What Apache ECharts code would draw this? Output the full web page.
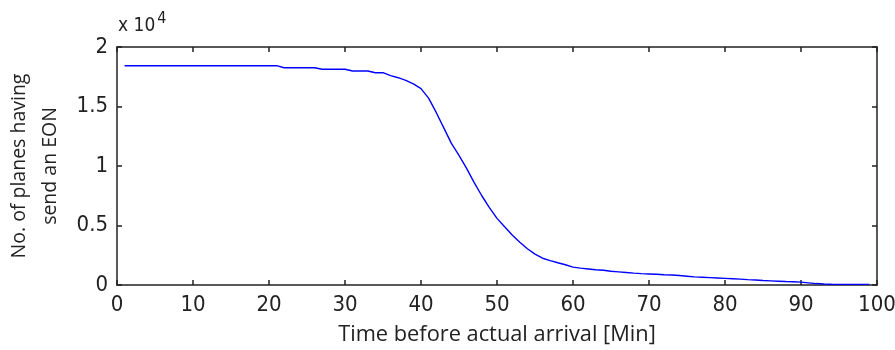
<!DOCTYPE html>
<html>
<head>
<meta charset="utf-8">
<script src="https://cdn.jsdelivr.net/npm/echarts@6/dist/echarts.min.js"></script>
<style>
  html, body { margin: 0; padding: 0; background: #fff; }
  #chart { width: 895px; height: 350px; }
</style>
</head>
<body>
<div id="chart"></div>
<script>
// minutes before arrival
const minutes = [
  1, 5, 10, 15, 21, 22, 26, 27, 30, 31, 33, 34, 35, 36, 37, 38, 39,
  40, 41, 42, 43, 44, 45, 46, 47, 48, 49, 50, 51, 52, 53, 54, 55, 56, 57, 58, 59,
  60, 61, 62, 63, 64, 65, 66, 67, 68, 69, 70, 71, 72, 73, 74, 75, 76, 77, 78, 79,
  80, 81, 82, 83, 84, 85, 86, 87, 88, 89, 90, 91, 92, 93, 94, 95, 96, 97, 98, 99
];
// planes having sent an EON
const planes = [
  18430, 18430, 18430, 18430, 18430, 18260, 18260, 18130, 18130, 17980, 17980, 17840, 17840, 17600, 17420, 17200, 16900,
  16500, 15700, 14500, 13200, 11900, 10900, 9800, 8600, 7500, 6500, 5600, 4900, 4200, 3600, 3050, 2600, 2250, 2050, 1870, 1700,
  1500, 1420, 1350, 1280, 1240, 1150, 1100, 1050, 1000, 960, 930, 900, 860, 840, 800, 740, 680, 650, 620, 590,
  560, 530, 490, 450, 420, 380, 350, 320, 290, 270, 240, 180, 120, 80, 60, 55, 50, 50, 50, 50
];
const xTicks = [0, 10, 20, 30, 40, 50, 60, 70, 80, 90, 100];
const yTicks = ['0', '0.5', '1', '1.5', '2'];

const chart = echarts.init(document.getElementById('chart'));

const tickFont = '"DejaVu Sans Condensed", "Liberation Sans Narrow", "Liberation Sans", sans-serif';
const titleFont = '"Open Sans", "Noto Sans", sans-serif';
const axisColor = '#222';

const baseAxis = {
  type: 'value',
  axisLine: { show: true, onZero: false, lineStyle: { color: axisColor, width: 1.5 } },
  axisTick: { show: true, inside: true, length: 5, lineStyle: { color: axisColor, width: 1.5 } },
  splitLine: { show: false }
};

chart.setOption({
  animation: false,
  grid: { left: 117, right: 18, top: 47, bottom: 65, containLabel: false, outerBoundsMode: 'none' },
  xAxis: [
    Object.assign({}, baseAxis, {
      position: 'bottom', min: 0, max: 100, interval: 10,
      axisLabel: {
        color: axisColor, fontFamily: tickFont, fontSize: 22, margin: 9,
        formatter: v => xTicks.includes(v) ? String(v) : ''
      },
      name: 'Time before actual arrival [Min]',
      nameLocation: 'middle', nameGap: 39,
      nameTextStyle: { color: axisColor, fontFamily: titleFont, fontSize: 21.8 }
    }),
    Object.assign({}, baseAxis, {
      position: 'top', min: 0, max: 100, interval: 10,
      axisLabel: { show: false }
    })
  ],
  yAxis: [
    Object.assign({}, baseAxis, {
      position: 'left', min: 0, max: 20000, interval: 5000,
      axisLabel: {
        color: axisColor, fontFamily: tickFont, fontSize: 22, margin: 9,
        formatter: v => yTicks[Math.round(v / 5000)]
      },
      name: 'No. of planes having\nsend an EON',
      nameLocation: 'middle', nameGap: 49, nameRotate: 90,
      nameTextStyle: { color: axisColor, fontFamily: titleFont, fontSize: 19.5, lineHeight: 31 }
    }),
    Object.assign({}, baseAxis, {
      position: 'right', min: 0, max: 20000, interval: 5000,
      axisLabel: { show: false }
    })
  ],
  graphic: [{
    type: 'text',
    left: 118, top: 11,
    style: {
      text: '{a|x 10}{b|4}',
      rich: {
        a: { fontFamily: tickFont, fontSize: 19, fill: axisColor, padding: [15, 0, 0, 0] },
        b: { fontFamily: tickFont, fontSize: 16, fill: axisColor, padding: [0, 0, 0, 2] }
      }
    }
  }],
  series: [{
    type: 'line',
    xAxisIndex: 0, yAxisIndex: 0,
    data: minutes.map((m, i) => [m, planes[i]]),
    showSymbol: false,
    lineStyle: { color: '#0000ff', width: 1.4 },
    itemStyle: { color: '#0000ff' }
  }]
});
</script>
</body>
</html>
